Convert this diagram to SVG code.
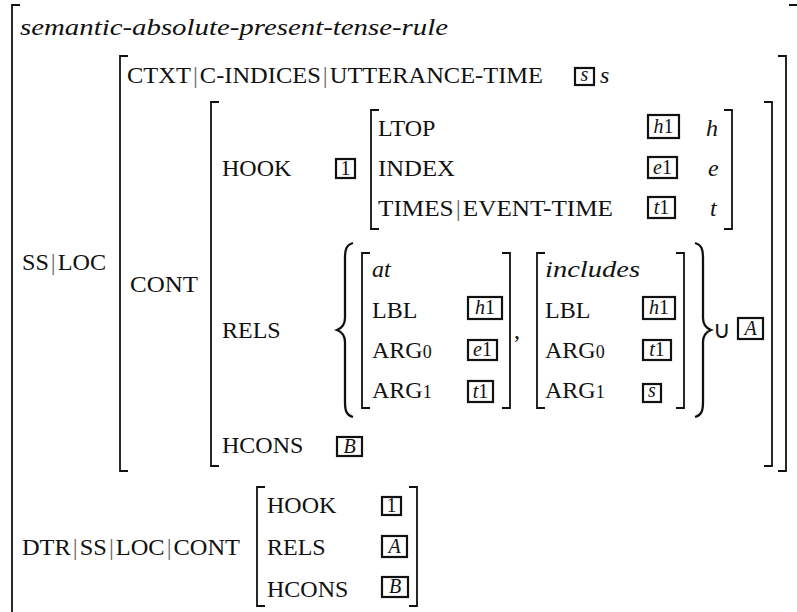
<svg xmlns="http://www.w3.org/2000/svg" width="797" height="612" viewBox="0 0 797 612">
<style>
.t{font-family:"Liberation Serif","Times New Roman",serif;font-size:24px;fill:#111}
.i{font-style:italic}
.bar{fill:#666}
.sm{font-size:18px}
.bx{fill:none;stroke:#111;stroke-width:2.2}
.bl{font-family:"Liberation Serif","Times New Roman",serif;font-size:20px;fill:#111;text-anchor:middle}
.br{fill:none;stroke:#111;stroke-width:1.8}
.brace{fill:none;stroke:#111;stroke-width:2.3}
</style>
<rect width="797" height="612" fill="#fff"/>
<g id="outer">
<path class="br" d="M20,5 H12 V620"/>
<path class="br" d="M789,5 H798 V620"/>
<text class="t i" x="20" y="35" font-size="25" textLength="428" lengthAdjust="spacingAndGlyphs">semantic-absolute-present-tense-rule</text>
</g>
<g id="ssloc">
<text class="t" x="22" y="270" textLength="84" lengthAdjust="spacingAndGlyphs">SS<tspan class="bar" dx="2">|</tspan><tspan dx="2">LOC</tspan></text>
<path class="br" d="M128,56 H120 V471 H128"/>
<path class="br" d="M778,56 H786 V471 H778"/>
</g>
<g id="ctxt">
<text class="t" x="127" y="83" textLength="416" lengthAdjust="spacingAndGlyphs">CTXT<tspan class="bar" dx="2">|</tspan><tspan dx="2">C-INDICES</tspan><tspan class="bar" dx="2">|</tspan><tspan dx="2">UTTERANCE-TIME</tspan></text>
<rect class="bx" x="575" y="68" width="19" height="17"/>
<text class="bl i" x="584.5" y="81" font-size="17">s</text>
<text class="t i" x="600" y="83" font-size="25">s</text>
</g>
<g id="cont">
<text class="t" x="130" y="292" textLength="68" lengthAdjust="spacingAndGlyphs">CONT</text>
<path class="br" d="M219,102 H211 V466 H219"/>
<path class="br" d="M764,102 H772 V466 H764"/>
</g>
<g id="hook">
<text class="t" x="222" y="176">HOOK</text>
<rect class="bx" x="336" y="159" width="19" height="19"/>
<text class="bl" x="345.5" y="175" font-size="18">1</text>
<path class="br" d="M379,110 H371 V229 H379"/>
<path class="br" d="M724,110 H732 V229 H724"/>
<text class="t" x="378" y="136">LTOP</text>
<text class="t" x="378" y="176" textLength="77" lengthAdjust="spacingAndGlyphs">INDEX</text>
<text class="t" x="378" y="216" textLength="235" lengthAdjust="spacingAndGlyphs">TIMES<tspan class="bar" dx="2">|</tspan><tspan dx="2">EVENT-TIME</tspan></text>
<rect class="bx" x="648" y="115" width="31" height="23"/>
<text class="bl" x="663.5" y="133"><tspan class="i">h</tspan>1</text>
<rect class="bx" x="648" y="157" width="29" height="21"/>
<text class="bl" x="662.5" y="174"><tspan class="i">e</tspan>1</text>
<rect class="bx" x="648" y="197" width="27" height="21"/>
<text class="bl" x="661.5" y="214"><tspan class="i">t</tspan>1</text>
<text class="t i" x="706" y="136" font-size="26">h</text>
<text class="t i" x="708" y="176" font-size="26">e</text>
<text class="t i" x="710" y="216" font-size="26">t</text>
</g>
<g id="rels">
<text class="t" x="222" y="338">RELS</text>
<path class="brace" d="M353,243 C346,245 345,250 345,258 V318 C345,325 342,328 337,330 C342,332 345,335 345,342 V402 C345,410 346,415 353,417"/>
<path class="brace" d="M695,243 C702,245 703,250 703,258 V318 C703,325 706,328 711,330 C706,332 703,335 703,342 V402 C703,410 702,415 695,417"/>
<text class="t" x="713" y="338" font-size="22">∪</text>
<rect class="bx" x="738" y="318" width="25" height="21"/>
<text class="bl i" x="750.5" y="335">A</text>
</g>
<g id="rel-at">
<path class="br" d="M370,253 H362 V408 H370"/>
<path class="br" d="M502,253 H510 V408 H502"/>
<text class="t i" x="372" y="277" font-size="26">at</text>
<text class="t" x="372" y="318">LBL</text>
<text class="t" x="372" y="358">ARG<tspan class="sm">0</tspan></text>
<text class="t" x="372" y="398">ARG<tspan class="sm">1</tspan></text>
<rect class="bx" x="468" y="297" width="34" height="22"/>
<text class="bl" x="485" y="314"><tspan class="i">h</tspan>1</text>
<rect class="bx" x="468" y="340" width="29" height="20"/>
<text class="bl" x="482.5" y="356"><tspan class="i">e</tspan>1</text>
<rect class="bx" x="468" y="381" width="25" height="21"/>
<text class="bl" x="480.5" y="398"><tspan class="i">t</tspan>1</text>
<text class="t" x="514" y="338">,</text>
</g>
<g id="rel-includes">
<path class="br" d="M545,253 H537 V408 H545"/>
<path class="br" d="M676,253 H684 V408 H676"/>
<text class="t i" x="545" y="277" font-size="26" textLength="95" lengthAdjust="spacingAndGlyphs">includes</text>
<text class="t" x="545" y="318">LBL</text>
<text class="t" x="545" y="358">ARG<tspan class="sm">0</tspan></text>
<text class="t" x="545" y="398">ARG<tspan class="sm">1</tspan></text>
<rect class="bx" x="643" y="297" width="32" height="22"/>
<text class="bl" x="659" y="314"><tspan class="i">h</tspan>1</text>
<rect class="bx" x="643" y="340" width="28" height="20"/>
<text class="bl" x="657" y="356"><tspan class="i">t</tspan>1</text>
<rect class="bx" x="643" y="384" width="18" height="18"/>
<text class="bl i" x="652" y="397" font-size="17">s</text>
</g>
<g id="hcons">
<text class="t" x="222" y="453">HCONS</text>
<rect class="bx" x="337" y="437" width="25" height="19"/>
<text class="bl i" x="349.5" y="453">B</text>
</g>
<g id="dtr">
<text class="t" x="22" y="555" textLength="218" lengthAdjust="spacingAndGlyphs">DTR<tspan class="bar" dx="2">|</tspan><tspan dx="2">SS</tspan><tspan class="bar" dx="2">|</tspan><tspan dx="2">LOC</tspan><tspan class="bar" dx="2">|</tspan><tspan dx="2">CONT</tspan></text>
<path class="br" d="M265,487 H257 V606 H265"/>
<path class="br" d="M409,487 H417 V606 H409"/>
<text class="t" x="267" y="513">HOOK</text>
<text class="t" x="267" y="555">RELS</text>
<text class="t" x="267" y="597">HCONS</text>
<rect class="bx" x="382" y="497" width="19" height="18"/>
<text class="bl" x="391.5" y="512" font-size="18">1</text>
<rect class="bx" x="382" y="536" width="25" height="21"/>
<text class="bl i" x="394.5" y="553">A</text>
<rect class="bx" x="382" y="577" width="26" height="20"/>
<text class="bl i" x="395" y="593">B</text>
</g>
</svg>
